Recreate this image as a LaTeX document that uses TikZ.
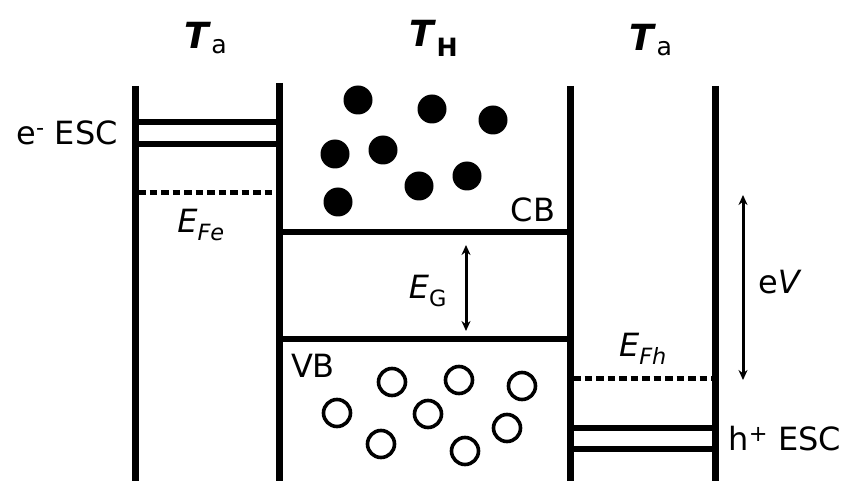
\documentclass[tikz,border=0pt]{standalone}
\usepackage{fontspec}
\setmainfont{DejaVu Sans}
\usetikzlibrary{arrows.meta}
\begin{document}
\begin{tikzpicture}[x=1pt,y=-1pt,
  font=\fontsize{32}{36}\selectfont,
  wall/.style={line width=7pt},
  level/.style={line width=5.5pt},
  fermi/.style={line width=5pt, dash pattern=on 7.5pt off 4pt},
  elec/.style={circle, fill=black, minimum size=29pt, inner sep=0pt},
  hole/.style={circle, draw=black, line width=3.6pt, minimum size=27pt, inner sep=0pt},
  gaparrow/.style={line width=3pt, {Stealth[length=10pt,width=9pt]}-{Stealth[length=10pt,width=9pt]}},
  lbl/.style={inner sep=0pt},
  temp/.style={inner sep=0pt, font=\fontsize{36}{40}\selectfont}]
\useasboundingbox (0,0) rectangle (849,481);

% walls
\coordinate (w1t) at (135,86);  \coordinate (w1b) at (135,481);
\coordinate (w2t) at (279,83);  \coordinate (w2b) at (279,481);
\coordinate (w3t) at (570,86);  \coordinate (w3b) at (570,481);
\coordinate (w4t) at (715,86);  \coordinate (w4b) at (715,481);
\draw[wall] (w1t) -- (w1b);
\draw[wall] (w2t) -- (w2b);
\draw[wall] (w3t) -- (w3b);
\draw[wall] (w4t) -- (w4b);

% temperature labels
\node[temp] (ta1) at (206,38) {\textbf{\textit{T}}\textsubscript{a}};
\node[temp] (th)  at (434,38) {\textbf{\textit{T}}\textsubscript{\textbf{H}}};
\node[temp] (ta2) at (651,40) {\textbf{\textit{T}}\textsubscript{a}};

% electron selective contact
\coordinate (e1l) at (135,122); \coordinate (e1r) at (279,122);
\coordinate (e2l) at (135,144); \coordinate (e2r) at (279,144);
\draw[level] (e1l) -- (e1r);
\draw[level] (e2l) -- (e2r);
\node[lbl] (eesc) at (67,133) {e\textsuperscript{-} ESC};

% electron Fermi level
\coordinate (fel) at (138,193); \coordinate (fer) at (276,193);
\draw[fermi] (fel) -- (fer);
\node[lbl] (efe) at (201,225) {\textit{E}\textsubscript{\textit{Fe}}};

% bands
\coordinate (cbl) at (279,232); \coordinate (cbr) at (570,232);
\coordinate (vbl) at (279,339); \coordinate (vbr) at (570,339);
\draw[level] (cbl) -- (cbr);
\draw[level] (vbl) -- (vbr);
\node[lbl] (cb) at (533,210) {CB};
\node[lbl] (vb) at (313,366) {VB};

% gap arrow
\coordinate (gt) at (466,245); \coordinate (gb) at (466,331);
\draw[gaparrow] (gt) -- (gb);
\node[lbl] (eg) at (428,291) {\textit{E}\textsubscript{G}};

% electrons
\node[elec] (n1) at (358,100) {};
\node[elec] (n2) at (432,109) {};
\node[elec] (n3) at (493,120) {};
\node[elec] (n4) at (335,154) {};
\node[elec] (n5) at (383,150) {};
\node[elec] (n6) at (419,186) {};
\node[elec] (n7) at (467,176) {};
\node[elec] (n8) at (338,202) {};

% holes
\node[hole] (p1) at (392,382) {};
\node[hole] (p2) at (459,380) {};
\node[hole] (p3) at (522,386) {};
\node[hole] (p4) at (337,413) {};
\node[hole] (p5) at (428,414) {};
\node[hole] (p6) at (381,444) {};
\node[hole] (p7) at (465,451) {};
\node[hole] (p8) at (507,428) {};

% hole Fermi level
\coordinate (fhl) at (573,378); \coordinate (fhr) at (712,378);
\draw[fermi] (fhl) -- (fhr);
\node[lbl] (efh) at (643,349) {\textit{E}\textsubscript{\textit{Fh}}};

% hole selective contact
\coordinate (h1l) at (570,428); \coordinate (h1r) at (715,428);
\coordinate (h2l) at (570,449); \coordinate (h2r) at (715,449);
\draw[level] (h1l) -- (h1r);
\draw[level] (h2l) -- (h2r);
\node[lbl] (hesc) at (785,439) {h\textsuperscript{+} ESC};

% voltage arrow
\coordinate (vt) at (743,195); \coordinate (vbm) at (743,380);
\draw[gaparrow] (vt) -- (vbm);
\node[lbl] (ev) at (780,282) {e\textit{V}};
\end{tikzpicture}
\end{document}
